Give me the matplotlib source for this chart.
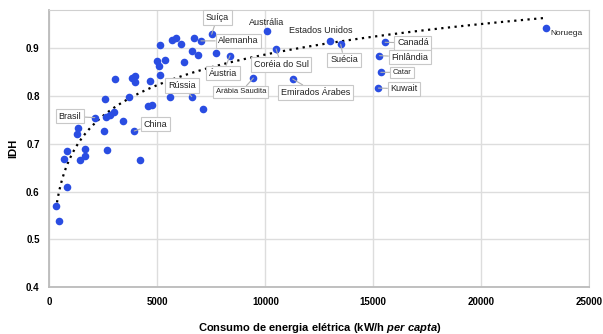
import numpy as np
import matplotlib
matplotlib.use('Agg')
import matplotlib.pyplot as plt

plt.rcParams['font.family'] = ['Liberation Sans', 'DejaVu Sans']
plt.rcParams['mathtext.fontset'] = 'custom'
plt.rcParams['mathtext.it'] = 'Liberation Sans:italic:bold'
plt.rcParams['mathtext.rm'] = 'Liberation Sans:bold'

# consumo de energia (kW/h per capta) e IDH de cada país
consumo = [300, 450, 800, 690, 800, 1410, 1645, 1645, 2650, 4190,
           1336, 1290, 2100, 2570, 2540, 2600, 2800, 3000, 3050, 3420,
           3685, 3810, 3960, 3960, 3930, 4660, 4580, 4730, 5120, 5000,
           5090, 5350, 5120, 5585, 5690, 5850, 6080, 6250, 6590, 6700,
           6590, 6900, 7130, 7020, 7515, 7700, 8365, 10060, 10500, 9445,
           11270, 13000, 13490, 15550, 15285, 15350, 15240, 22990]
idh = [0.570, 0.538, 0.609, 0.668, 0.684, 0.666, 0.675, 0.690, 0.688, 0.666,
       0.734, 0.721, 0.755, 0.794, 0.726, 0.756, 0.761, 0.766, 0.836, 0.748,
       0.798, 0.839, 0.843, 0.829, 0.727, 0.831, 0.780, 0.782, 0.908, 0.873,
       0.864, 0.876, 0.845, 0.799, 0.917, 0.923, 0.910, 0.871, 0.895, 0.923,
       0.799, 0.887, 0.773, 0.916, 0.930, 0.890, 0.885, 0.936, 0.899, 0.838,
       0.836, 0.916, 0.909, 0.913, 0.885, 0.850, 0.817, 0.944]
nomes = {12: 'Brasil', 24: 'China', 40: 'Rússia', 43: 'Alemanha', 44: 'Suíça',
         46: 'Áustria', 47: 'Austrália', 48: 'Coréia do Sul', 49: 'Arábia Saudita',
         50: 'Emirados Árabes', 51: 'Estados Unidos', 52: 'Suécia', 53: 'Canadá',
         54: 'Finlândia', 55: 'Catar', 56: 'Kuwait', 57: 'Noruega'}

# posição do rótulo (pontos), se tem caixa, tamanho da fonte
estilo = {
    'Brasil': ((-18, 1), True, 6.5),
    'China': ((15, 5), True, 6.5),
    'Rússia': ((-7, 8), True, 6.5),
    'Alemanha': ((27, 0), True, 6.5),
    'Suíça': ((4, 12), True, 6.5),
    'Áustria': ((-5, -12.5), True, 6.5),
    'Austrália': ((0, 6.6), False, 6.5),
    'Coréia do Sul': ((3.6, -11.3), True, 6.5),
    'Arábia Saudita': ((-9, -10), True, 5.5),
    'Emirados Árabes': ((16.4, -9.7), True, 6.5),
    'Estados Unidos': ((-6.5, 7.2), False, 6.5),
    'Suécia': ((2.4, -11.3), True, 6.5),
    'Canadá': ((20, -0.5), True, 6.5),
    'Finlândia': ((22, -1), True, 6.5),
    'Catar': ((15.3, 0), True, 5.5),
    'Kuwait': ((18.5, -0.5), True, 6.5),
    'Noruega': ((3, -4.2), False, 6),
}

fig = plt.figure(figsize=(6.03, 3.34), dpi=100)
ax = fig.add_axes([0.082, 0.141, 0.895, 0.828])

ax.scatter(consumo, idh, s=30, color='#2a4de2', zorder=3, linewidths=0)

# linha de tendência logarítmica
x = np.array(consumo)
b, a = np.polyfit(np.log(x), np.array(idh), 1)
xt = np.linspace(x.min(), x.max(), 300)
ax.plot(xt, a + b * np.log(xt), linestyle=(0, (1, 2)), color='black', lw=1.6, zorder=2)

for i, nome in nomes.items():
    off, caixa, fs = estilo[nome]
    ha = 'left' if nome == 'Noruega' else 'center'
    bbox = dict(boxstyle='square,pad=0.3', fc='white', ec='#c8c8c8', lw=0.8) if caixa else None
    ax.annotate(nome, (consumo[i], idh[i]), xytext=off, textcoords='offset points',
                ha=ha, va='center', fontsize=fs, color='#222222', bbox=bbox,
                arrowprops=dict(arrowstyle='-', color='#b0b0b0', lw=0.8, shrinkA=0, shrinkB=0) if caixa else None,
                zorder=4)

ax.set_xlim(0, 25000)
ax.set_ylim(0.4, 0.98)
ax.set_xticks([0, 5000, 10000, 15000, 20000, 25000])
ax.set_yticks([0.4, 0.5, 0.6, 0.7, 0.8, 0.9])
ax.set_yticklabels(['0.4', '0.5', '0.6', '0.7', '0.8', '0.9'])
ax.grid(True, color='#dddddd', lw=1)
ax.set_axisbelow(True)
for s in ax.spines.values():
    s.set_color('#d0d0d0')
ax.spines['left'].set_color('#bbbbbb')
ax.spines['bottom'].set_color('#bbbbbb')
ax.spines['left'].set_linewidth(1.3)
ax.spines['bottom'].set_linewidth(1.3)
ax.tick_params(length=0, labelsize=7, pad=7)
for lab in ax.get_xticklabels() + ax.get_yticklabels():
    lab.set_fontweight('bold')

ax.set_ylabel('IDH', fontsize=8, fontweight='bold', labelpad=6)
ax.set_xlabel(r'Consumo de energia elétrica (kW/h $\it{per\ capta}$)',
              fontsize=8, fontweight='bold', labelpad=10)

fig.savefig('out.png', dpi=100)
